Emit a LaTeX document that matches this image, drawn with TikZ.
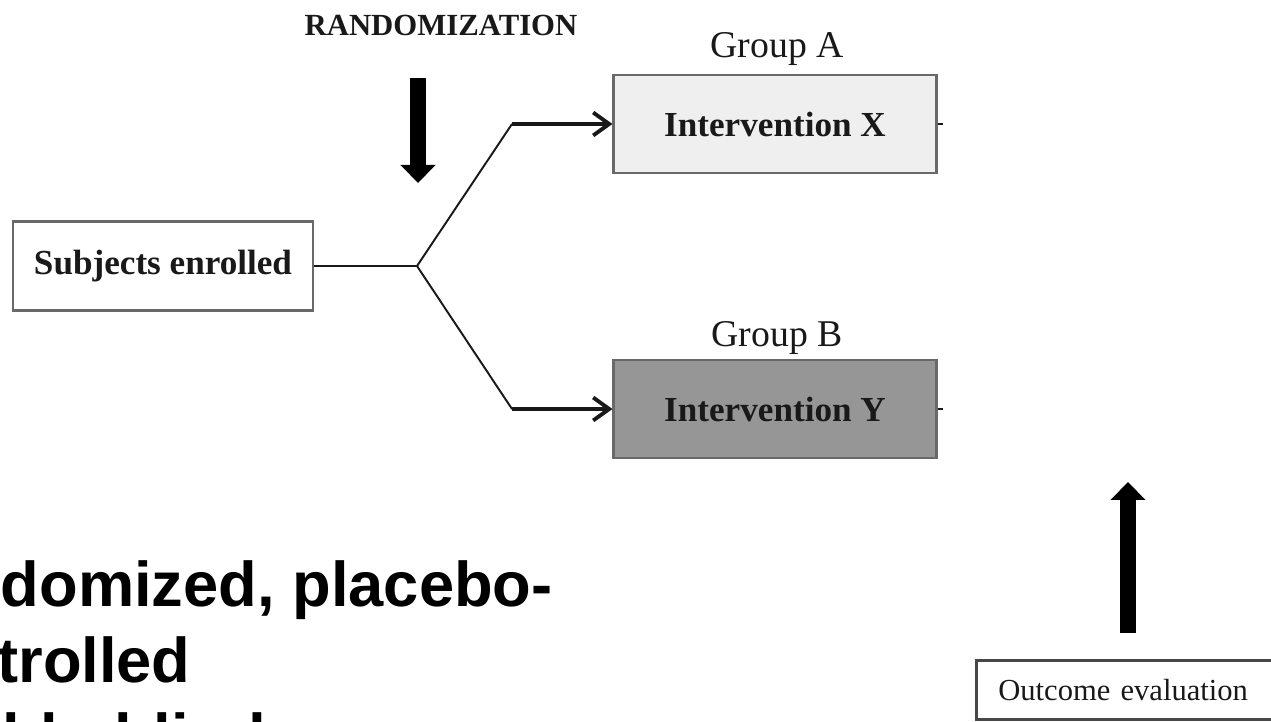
\documentclass[tikz,border=0pt]{standalone}
\usepackage{fontspec}
\setmainfont{Liberation Serif}
\newfontfamily\slidefont{Liberation Sans}
\usepackage{tikz}
\usetikzlibrary{arrows.meta,positioning}
\definecolor{boxgray}{RGB}{105,105,105}
\definecolor{lightfill}{RGB}{239,239,239}
\definecolor{darkfill}{RGB}{150,150,150}
\definecolor{inkblack}{RGB}{25,25,25}

\begin{document}
\begin{tikzpicture}[x=0.02cm,y=-0.02cm,box/.style={draw=boxgray,line width=1.2pt,minimum width=6cm,minimum height=1.78cm,inner sep=0pt,font=\fontsize{20}{24}\selectfont\bfseries,text=inkblack},arm/.style={box,minimum width=6.46cm,minimum height=1.97cm},grp/.style={font=\fontsize{21.5}{25}\selectfont,text=inkblack,inner sep=0pt},blk/.style={line width=9.6pt,-{Triangle[length=0.36cm,width=0.68cm]}},branch/.style={draw=inkblack,line width=1.1pt},conn/.style={draw=inkblack,line width=2.2pt,-{Straight Barb[length=0.32cm,width=0.46cm]}},slide/.style={anchor=base west,inner sep=0pt,font=\slidefont\fontsize{36}{43}\selectfont\bfseries}]
\useasboundingbox (0,0) rectangle (1271,722);
\clip (0,0) rectangle (1271,722);
\node[font=\fontsize{17.5}{21}\selectfont\bfseries,text=inkblack,inner sep=0pt] (rnd) at (441,25) {RANDOMIZATION};
\node[box,fill=white] (se) at (163,266) {Subjects enrolled};
\node[arm,fill=lightfill] (ix) at (775,124) {Intervention X};
\node[arm,fill=darkfill] (iy) at (775,409) {Intervention Y};
\node[grp] (ga) at (777,49) {Group A};
\node[grp] (gb) at (777,338) {Group B};
\node[draw=inkblack!80,line width=1.5pt,anchor=west,minimum height=1.18cm,text width=5.6cm,align=left,inner xsep=0.44cm,font=\fontsize{17.4}{21}\selectfont,text=inkblack] (oe) at (975,690) {Outcome evaluation};
% split after randomization
\coordinate (jn) at (417,266);
\coordinate (ka) at (512,124);
\coordinate (kb) at (512,409);
\draw[branch] (se) -- (jn) -- (ka);
\draw[branch] (jn) -- (kb);
\draw[conn] (ka) -- (ix);
\draw[conn] (kb) -- (iy);
\draw[branch] (ix.east) -- ++(5,0);
\draw[branch] (iy.east) -- ++(5,0);
% block arrows
\coordinate (rt) at (418,78);
\coordinate (rb) at (418,183);
\draw[blk] (rt) -- (rb);
\coordinate (ob) at (1128,633);
\draw[blk] (ob) -- (1128,482);
% slide title, cut off by the frame
\node[slide] (t1) at (0.5,606) {domized, placebo-};
\node[slide] (t2) at (-3,682) {trolled};
\node[slide] (t3) at (2,758) {ble-blind};
\end{tikzpicture}
\end{document}
